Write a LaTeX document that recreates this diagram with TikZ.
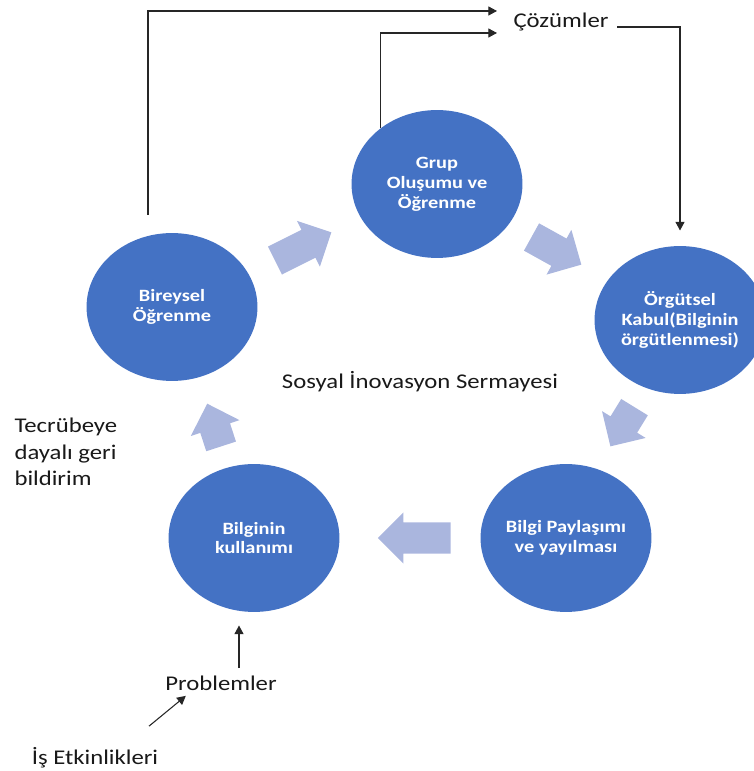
\documentclass[tikz,border=0pt]{standalone}
\usepackage{fontspec}
\setmainfont{Carlito}[FakeStretch=1.18]
\usepackage{xcolor}
\usepackage{tikz}
\usetikzlibrary{arrows.meta}
\usetikzlibrary{calc}
\usetikzlibrary{shapes.geometric,shapes.arrows}
\definecolor{halka}{RGB}{68,114,196}
\definecolor{okrenk}{RGB}{170,182,222}

\begin{document}
\begin{tikzpicture}[x=0.0265cm,y=0.0265cm,>={Triangle[length=2.3mm,width=2.4mm]},thick]
 				 \tikzstyle{balon}=[ellipse, fill=halka, text=white, align=center, inner sep=0pt, minimum width=4.53cm, minimum height=3.92cm, font=\fontsize{13}{15}\selectfont\bfseries]
 				 \tikzstyle{blok}=[single arrow, fill=okrenk, inner xsep=0pt, inner ysep=0.4cm, single arrow head extend=0.265cm, minimum width=1.325cm, anchor=tip]
 				 \tikzstyle{yazi}=[inner sep=0pt, text=black!90, align=left, font=\fontsize{15.8}{20}\selectfont]
 				 \tikzstyle{cizgi}=[->, draw=black!85]
						\useasboundingbox (0,0) rectangle (753,771);

						\node[balon] (G) at (437,587) {Grup\\Oluşumu ve\\Öğrenme};
						\node[balon] (B) at (172,464) {Bireysel\\Öğrenme};
						\node[balon] (O) at (680,451) {Örgütsel\\Kabul(Bilginin\\örgütlenmesi)};
						\node[balon] (K) at (254,233) {Bilginin\\kullanımı};
						\node[balon] (P) at (566,233) {Bilgi Paylaşımı\\ve yayılması};

						\node[yazi] (S) at (420,389) {Sosyal İnovasyon Sermayesi};
						\node[yazi, anchor=west] (T) at (14,319) {Tecrübeye\\dayalı geri\\bildirim};
						\node[yazi] (C) at (561,749) {Çözümler};
						\node[yazi] (Pr) at (221,88) {Problemler};
						\node[yazi] (I) at (95,13) {İş Etkinlikleri};

						% dongu oklari
						\node[blok, rotate=26.6, minimum height=1.67cm] (a1) at (332,539) {};
						\node[blok, rotate=-29, minimum height=1.51cm] (a2) at (582,506) {};
						\node[blok, rotate=-121.6, minimum height=1.22cm] (a3) at (610,324) {};
						\node[blok, rotate=180, minimum height=1.93cm] (a4) at (377,233) {};
						\node[blok, rotate=108, minimum height=1.19cm] (a5) at (207,368) {};

						\coordinate (b1) at (148,556);
						\coordinate (c1) at (497,760);
						\coordinate (c2) at (497,738);

						\draw[cizgi] (b1) |- (c1);
						\draw[cizgi] (G.135) |- (c2);
						\draw[cizgi] ($(C.east)+(8,-5)$) -| ($(O.north)+(0,15)$);
						\draw[cizgi] ($(Pr.north)+(18,7)$) -- ($(K.south)+(-15,-13)$);
						\draw[cizgi] ($(I.north)+(54,21)$) -- ($(Pr.south west)+(21,-5)$);

 				\end{tikzpicture}
\end{document}
